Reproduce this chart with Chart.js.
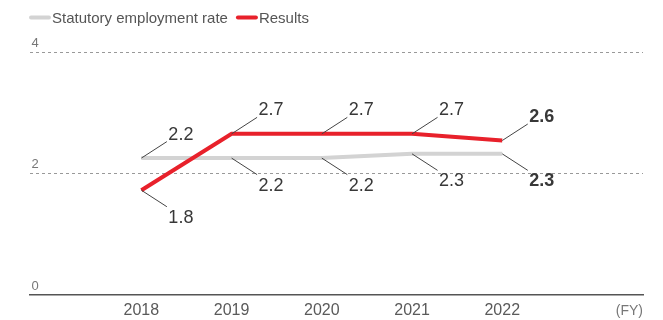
<!DOCTYPE html>
<html><head><meta charset="utf-8">
<script src="https://cdn.jsdelivr.net/npm/chart.js@4"></script>
<style>html,body{margin:0;padding:0;background:#fff}canvas{display:block}</style>
</head><body>
<canvas id="c" width="663" height="320"></canvas>
<script>
const years = ['2018', '2019', '2020', '2021', '2022'];
const statutoryRate = [2.25, 2.25, 2.25, 2.32, 2.32];
const results = [1.72, 2.65, 2.65, 2.65, 2.54];
const statutoryLabels = ['2.2', '2.2', '2.2', '2.3', '2.3'];
const resultsLabels = ['1.8', '2.7', '2.7', '2.7', '2.6'];
const yTickValues = [0, 2, 4];
const unitLabel = '(FY)';

const FONT = '"Liberation Sans", Arial, Helvetica, sans-serif';

const overlay = {
  id: 'overlay',
  afterDatasetsDraw(chart) {
    const ctx = chart.ctx, xs = chart.scales.x, ys = chart.scales.y, area = chart.chartArea;
    ctx.save();
    // value labels with leader lines
    chart.data.datasets.forEach((ds, di) => {
      const meta = chart.getDatasetMeta(di);
      meta.data.forEach((pt, i) => {
        const dir = ds.labelDir[i] === 'up' ? -1 : 1;
        const ex = pt.x + 25.5, ey = pt.y + dir * 16.5;
        ctx.beginPath();
        ctx.moveTo(pt.x, pt.y);
        ctx.lineTo(ex, ey);
        ctx.strokeStyle = '#444';
        ctx.lineWidth = 1;
        ctx.lineCap = 'butt';
        ctx.stroke();
        const bold = i === meta.data.length - 1;
        ctx.font = (bold ? 'bold ' : '') + '18px ' + FONT;
        ctx.fillStyle = '#383838';
        ctx.textAlign = 'left';
        ctx.textBaseline = 'alphabetic';
        ctx.fillText(ds.valueLabels[i], ex + 1.5, dir < 0 ? ey - 2 : ey + 16);
      });
    });
    // x labels
    ctx.font = '16px ' + FONT;
    ctx.fillStyle = '#5a5a5a';
    ctx.textAlign = 'center';
    years.forEach((yr, i) => ctx.fillText(yr, xs.getPixelForValue(i), 315));
    ctx.font = '14px ' + FONT;
    ctx.fillStyle = '#777';
    ctx.textAlign = 'right';
    ctx.fillText(unitLabel, area.right, 315);
    // y labels
    ctx.font = '13px ' + FONT;
    ctx.fillStyle = '#777';
    ctx.textAlign = 'left';
    yTickValues.forEach(v => ctx.fillText(String(v), area.left + 2, ys.getPixelForValue(v) - 5));
    // legend
    let lx = 31;
    ctx.font = '15px ' + FONT;
    chart.data.datasets.forEach(ds => {
      ctx.beginPath();
      ctx.moveTo(lx, 17.5);
      ctx.lineTo(lx + 18, 17.5);
      ctx.strokeStyle = ds.borderColor;
      ctx.lineWidth = 4;
      ctx.lineCap = 'round';
      ctx.stroke();
      ctx.fillStyle = '#555';
      ctx.fillText(ds.label, lx + 21, 23);
      lx += 21 + ctx.measureText(ds.label).width + 10;
    });
    ctx.restore();
  }
};

new Chart(document.getElementById('c'), {
  type: 'line',
  data: {
    datasets: [
      {
        label: 'Statutory employment rate',
        data: statutoryRate.map((v, i) => ({ x: i, y: v })),
        borderColor: '#d3d3d3', backgroundColor: '#d3d3d3',
        borderWidth: 4, pointRadius: 0, tension: 0, order: 2,
        valueLabels: statutoryLabels,
        labelDir: ['up', 'down', 'down', 'down', 'down']
      },
      {
        label: 'Results',
        data: results.map((v, i) => ({ x: i, y: v })),
        borderColor: '#e8212b', backgroundColor: '#e8212b',
        borderWidth: 4, pointRadius: 0, tension: 0, order: 1,
        valueLabels: resultsLabels,
        labelDir: ['down', 'up', 'up', 'up', 'up']
      }
    ]
  },
  options: {
    responsive: false, animation: false, devicePixelRatio: 1,
    layout: { padding: { left: 29.5, right: 20, top: 52, bottom: 25.5 } },
    plugins: { legend: { display: false }, tooltip: { enabled: false } },
    scales: {
      x: {
        type: 'linear', min: -1.24, max: 5.56,
        ticks: { display: false },
        grid: { display: false, drawTicks: false },
        border: { display: true, color: '#555', width: 1.5 }
      },
      y: {
        min: 0, max: 4,
        afterBuildTicks: s => { s.ticks = yTickValues.map(v => ({ value: v })); },
        ticks: { display: false },
        grid: {
          drawTicks: false, lineWidth: 1,
          color: c => (c.tick && c.tick.value === 0) ? 'rgba(0,0,0,0)' : '#999'
        },
        border: { display: false, dash: [3, 3] }
      }
    }
  },
  plugins: [overlay]
});
</script>
</body></html>
